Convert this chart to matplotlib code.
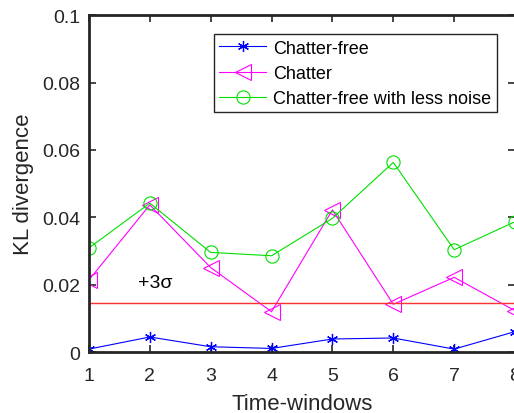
import matplotlib
matplotlib.use('Agg')
from matplotlib import pyplot as plt

windows = [1, 2, 3, 4, 5, 6, 7, 8]
chatter_free = [0.0009, 0.0045, 0.0016, 0.0011, 0.0039, 0.0042, 0.0009, 0.0061]
chatter = [0.0214, 0.0437, 0.0251, 0.0120, 0.0422, 0.0142, 0.0222, 0.0123]
less_noise = [0.0309, 0.0442, 0.0296, 0.0286, 0.0397, 0.0563, 0.0304, 0.0387]
threshold = 0.01445
y_ticks = [0, 0.02, 0.04, 0.06, 0.08, 0.1]
y_tick_labels = ['0', '0.02', '0.04', '0.06', '0.08', '0.1']

plt.rcParams['font.family'] = ['Liberation Sans', 'DejaVu Sans']

fig = plt.figure(figsize=(5.14, 4.14), dpi=100)
ax = fig.add_axes([0.173, 0.147, 0.829, 0.814])

ax.plot(windows, chatter_free, color='#0000ff', marker=(6, 2, 0), markersize=8,
        markeredgewidth=0.9, linewidth=0.8, label='Chatter-free')
ax.plot(windows, chatter, color='#ff00ff', marker='<', markersize=11,
        markerfacecolor='none', markeredgewidth=0.8, linewidth=0.8, label='Chatter')
ax.plot(windows, less_noise, color='#00e000', marker='o', markersize=9.5,
        markerfacecolor='none', markeredgewidth=0.8, linewidth=0.8,
        label='Chatter-free with less noise')
ax.axhline(threshold, color='#ff3030', linewidth=1.0)
ax.text(1.81, 0.0207, '+3σ', fontsize=14, va='center', ha='left')

ax.set_xlim(1, 8)
ax.set_ylim(0, 0.1)
ax.set_xticks(windows)
ax.set_yticks(y_ticks)
ax.set_yticklabels(y_tick_labels)
ax.tick_params(axis='both', direction='in', length=5, width=1.2, labelsize=14,
               colors='#262626', top=True, right=True, pad=6)
ax.tick_params(axis='x', pad=11)
for s in ax.spines.values():
    s.set_linewidth(2)
    s.set_color('#262626')

ax.set_xlabel('Time-windows', fontsize=16, color='#262626', labelpad=6)
ax.set_ylabel('KL divergence', fontsize=16, color='#262626', labelpad=6)

leg = ax.legend(loc='upper left', bbox_to_anchor=(0.293, 0.943), fontsize=13,
                fancybox=False, framealpha=1, edgecolor='#262626',
                handlelength=2.6, borderpad=0.3, labelspacing=0.45,
                handletextpad=0.4, borderaxespad=0)
leg.get_frame().set_linewidth(1.0)

fig.savefig('out.png', dpi=100)
